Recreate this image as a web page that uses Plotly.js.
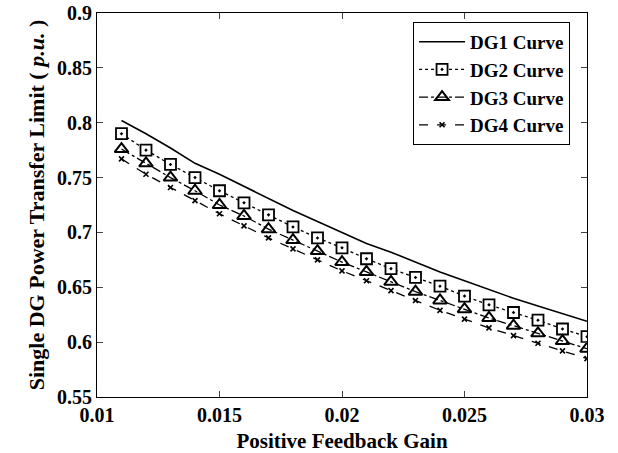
<!DOCTYPE html>
<html><head><meta charset="utf-8">
<script src="https://cdn.plot.ly/plotly-3.0.1.min.js"></script>
<style>body{margin:0;padding:0;background:#fff}#chart{width:618px;height:453px}</style>
</head><body><div id="chart"></div>
<script>
const gain = [0.011,0.012,0.013,0.014,0.015,0.016,0.017,0.018,0.019,0.020,0.021,0.022,0.023,0.024,0.025,0.026,0.027,0.028,0.029,0.030];
const dg1 = [0.802,0.790,0.777,0.763,0.753,0.742,0.731,0.720,0.710,0.700,0.690,0.682,0.673,0.664,0.656,0.648,0.640,0.633,0.626,0.619];
const dg2 = [0.790,0.775,0.762,0.750,0.738,0.727,0.716,0.705,0.695,0.686,0.676,0.667,0.659,0.651,0.642,0.634,0.627,0.620,0.612,0.605];
const dg3 = [0.776,0.763,0.750,0.738,0.725,0.715,0.703,0.693,0.683,0.673,0.664,0.655,0.646,0.638,0.630,0.622,0.615,0.608,0.601,0.594];
const dg4 = [0.767,0.753,0.741,0.729,0.717,0.706,0.695,0.685,0.675,0.665,0.656,0.647,0.638,0.629,0.621,0.613,0.606,0.599,0.592,0.585];
const names = ['DG1 Curve','DG2 Curve','DG3 Curve','DG4 Curve'];
const xTicks = [0.01,0.015,0.02,0.025,0.03];
const xTickText = ['0.01','0.015','0.02','0.025','0.03'];
const yTicks = [0.55,0.6,0.65,0.7,0.75,0.8,0.85,0.9];
const yTickText = ['0.55','0.6','0.65','0.7','0.75','0.8','0.85','0.9'];

const traces = [
  {x: gain, y: dg1, name: names[0], mode: 'lines', line: {color: '#000', width: 1.6, dash: 'solid'}},
  {x: gain, y: dg2, name: names[1], mode: 'lines+markers', line: {color: '#000', width: 1.3, dash: 'dot'},
   marker: {symbol: 'square-dot', size: 11, color: '#fff', line: {color: '#000', width: 1.8}}},
  {x: gain, y: dg3, name: names[2], mode: 'lines+markers', line: {color: '#000', width: 1.3, dash: 'dashdot'},
   marker: {symbol: 'triangle-up-open', size: 12, color: '#000', line: {color: '#000', width: 2}}},
  {x: gain, y: dg4, name: names[3], mode: 'lines+markers', line: {color: '#000', width: 1.3, dash: 'dash'},
   marker: {symbol: 'x-thin-open', size: 5, color: '#000', line: {color: '#000', width: 1.6}}}
];

const fam = 'Liberation Serif';
const layout = {
  width: 618, height: 453,
  margin: {l: 97, r: 31, t: 13, b: 56},
  paper_bgcolor: '#fff', plot_bgcolor: '#fff',
  font: {family: fam, color: '#000'},
  showlegend: true,
  legend: {x: 0.645, y: 0.977, xanchor: 'left', yanchor: 'top', bordercolor: '#000', borderwidth: 1,
           itemwidth: 46,
           bgcolor: '#fff', font: {family: fam, size: 19, color: '#000', weight: 'bold'}, tracegroupgap: 0},
  xaxis: {range: [0.01, 0.03], tickvals: xTicks, ticktext: xTickText,
          ticks: 'inside', ticklen: 6, showline: true, linecolor: '#000', linewidth: 1.2, mirror: 'ticks',
          showgrid: false, zeroline: false, automargin: false,
          tickfont: {family: fam, size: 20, color: '#000', weight: 'bold'},
          title: {text: 'Positive Feedback Gain', font: {family: fam, size: 21, color: '#000', weight: 'bold'}, standoff: 10}},
  yaxis: {range: [0.55, 0.9], tickvals: yTicks, ticktext: yTickText,
          ticks: 'inside', ticklen: 6, showline: true, linecolor: '#000', linewidth: 1.2, mirror: 'ticks',
          showgrid: false, zeroline: false, automargin: false,
          tickfont: {family: fam, size: 20, color: '#000', weight: 'bold'},
          title: {text: 'Single DG Power Transfer Limit ( <i>p.u.</i> )', font: {family: fam, size: 22, color: '#000', weight: 'bold'}, standoff: 6}}
};
Plotly.newPlot('chart', traces, layout, {displayModeBar: false});
</script></body></html>
